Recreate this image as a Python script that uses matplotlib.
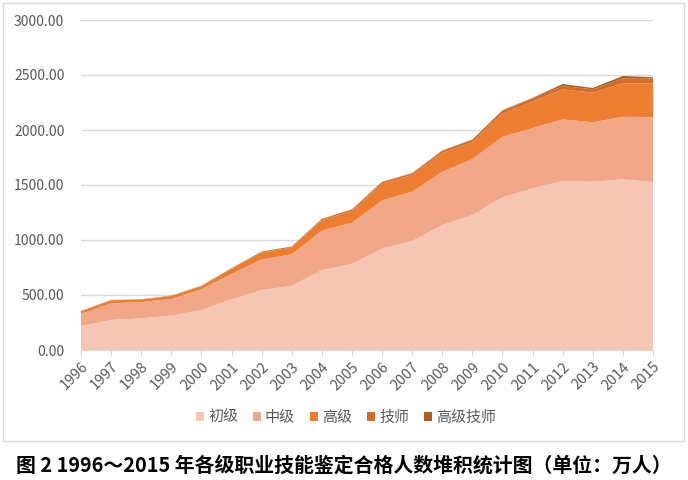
import matplotlib.pyplot as plt
from matplotlib.patches import Rectangle

plt.rcParams['font.family'] = ['Noto Sans CJK SC', 'DejaVu Sans']

years = list(range(1996, 2016))
series_names = ["初级", "中级", "高级", "技师", "高级技师"]
chuji = [218, 273, 288, 312, 364, 461, 545, 585, 727, 782, 924, 991, 1136, 1227, 1388, 1470, 1536, 1530, 1551, 1527]
zhongji = [112, 151, 148, 152, 188, 230, 279, 285, 358, 376, 436, 448, 485, 509, 551, 548, 561, 540, 570, 588]
gaoji = [22, 28, 22, 26, 28, 47, 62, 62, 95, 107, 152, 151, 169, 154, 211, 240, 273, 269, 303, 309]
jishi = [2, 3, 3, 4, 4, 5, 8, 8, 10, 12, 14, 15, 20, 20, 25, 28, 30, 31, 46, 46]
gaojijishi = [0.5, 0.5, 0.5, 0.5, 0.5, 1, 1, 1, 2, 2, 3, 3, 4, 4, 5, 6, 18, 12, 21, 9]
colors = ["#F5C6B4", "#F1A888", "#ED7D31", "#D26D28", "#AE5A21"]
caption = "图 2 1996～2015 年各级职业技能鉴定合格人数堆积统计图（单位：万人）"

fig = plt.figure(figsize=(6.88, 4.8), dpi=100)
ax = fig.add_axes([81/688, 1-350/480, 572/688, 330/480])

ax.stackplot(years, chuji, zhongji, gaoji, jishi, gaojijishi,
             colors=colors, labels=series_names, linewidth=0)

ax.set_xlim(1996, 2015)
ax.set_ylim(0, 3000)
ax.set_yticks(range(0, 3001, 500))
ax.set_yticklabels([f"{v:.2f}" for v in range(0, 3001, 500)])
ax.set_xticks(years)
ax.set_xticklabels([str(y) for y in years], rotation=45, ha='right', rotation_mode='anchor')
ax.grid(axis='y', color='#D9D9D9', linewidth=1)
ax.set_axisbelow(True)
for s in ['top', 'right', 'left']:
    ax.spines[s].set_visible(False)
ax.spines['bottom'].set_color('#D9D9D9')
ax.tick_params(axis='y', length=0, labelsize=10, labelcolor='#595959', pad=12)
ax.tick_params(axis='x', length=4, color='#D9D9D9', labelsize=10.5, labelcolor='#595959', pad=3)

fig.legend(loc='center', bbox_to_anchor=(346/688, 1-418/480), ncol=5, frameon=False,
           fontsize=10.8, handlelength=0.55, handleheight=0.55, handletextpad=0.25,
           columnspacing=1.0, labelcolor='#595959')

# outer chart border
fig.patches.append(Rectangle((3/688, 1-441/480), 681/688, 438/480, transform=fig.transFigure,
                             fill=False, edgecolor='#D9D9D9', linewidth=1))

fig.text(0.5, 1-465/480, caption, ha='center', va='center', fontsize=14.3, fontweight='bold', color='black')

fig.savefig('out.png', dpi=100)
